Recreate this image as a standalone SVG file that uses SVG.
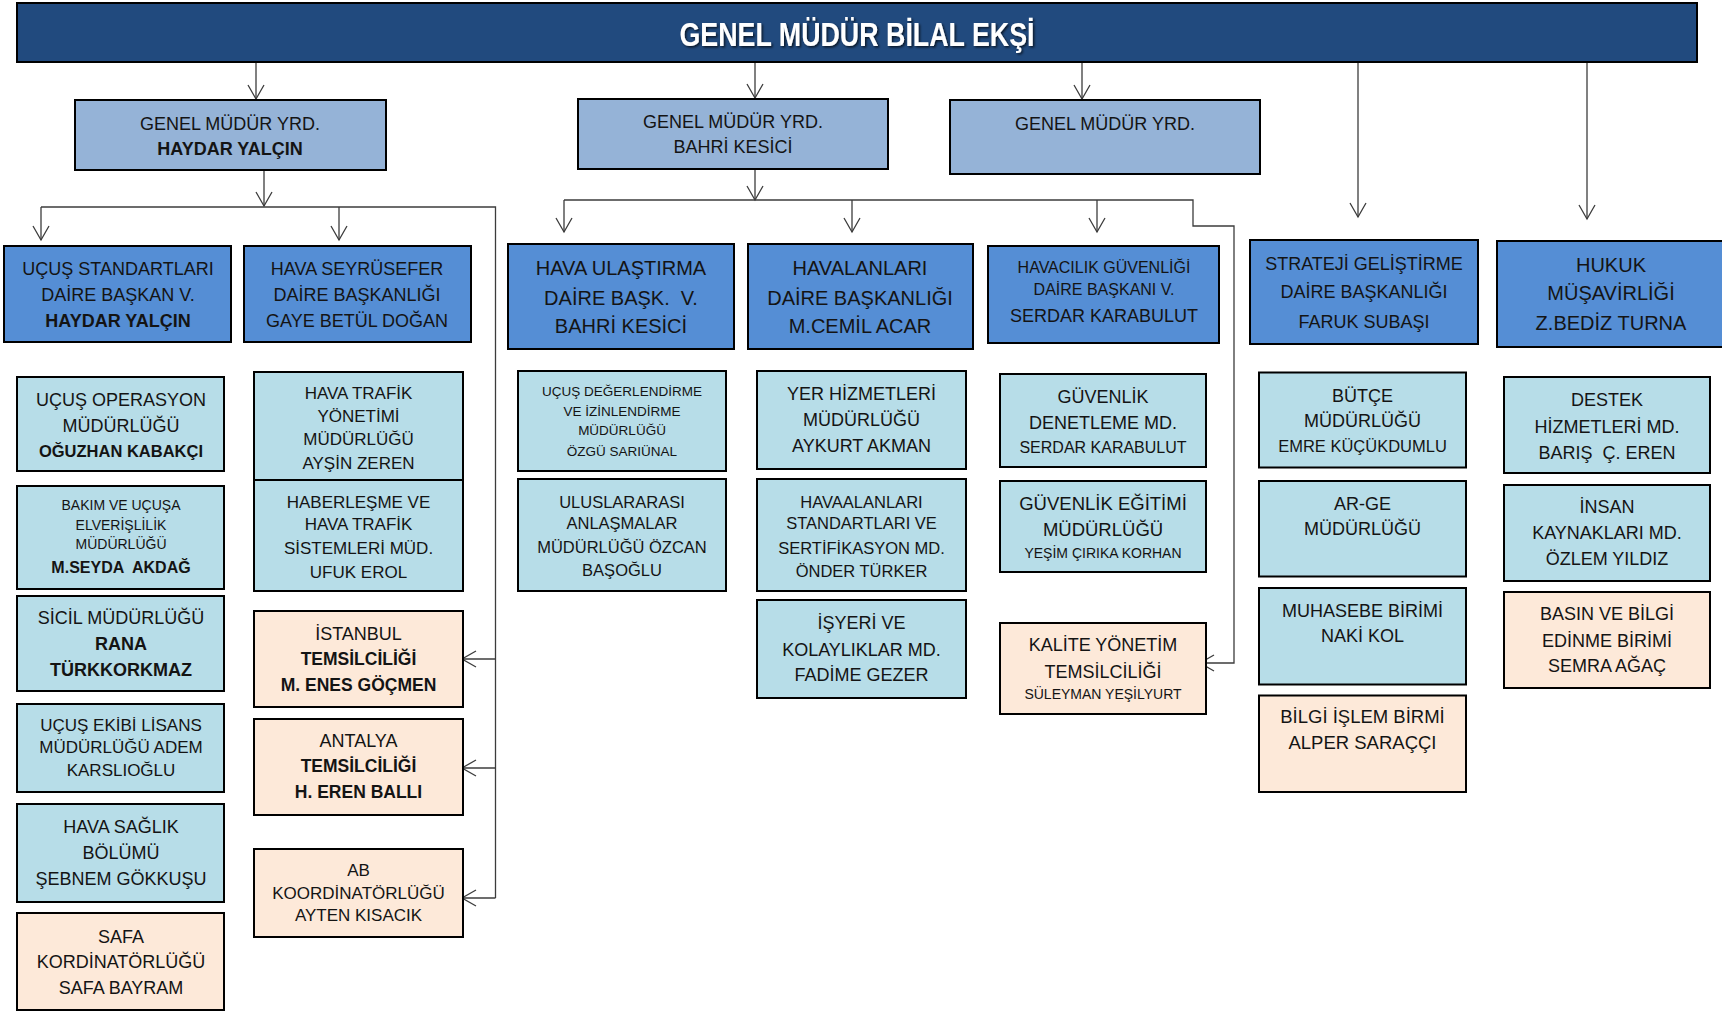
<svg xmlns="http://www.w3.org/2000/svg" width="1722" height="1011" viewBox="0 0 1722 1011">
<defs>
<style>
.box{stroke:#000;stroke-width:2}
.hd{fill:#214A7E}
.gm{fill:#95B3D7}
.dp{fill:#558ED5}
.lb{fill:#B7DDE8}
.pc{fill:#FDE9D9}
text{font-family:"Liberation Sans",Arial,sans-serif;text-anchor:middle;fill:#141414}
.b{font-weight:bold}
.ln{fill:none;stroke:#3c3c3c;stroke-width:1.3}
</style>
<marker id="ar" markerUnits="userSpaceOnUse" markerWidth="18" markerHeight="20" viewBox="0 0 18 20" refX="16" refY="10" orient="auto">
<path d="M2,2 L16,10 L2,18" fill="none" stroke="#3c3c3c" stroke-width="1.3"/>
</marker>
<filter id="sh" x="-5%" y="-30%" width="110%" height="160%">
<feDropShadow dx="1.5" dy="1.5" stdDeviation="1" flood-color="#000" flood-opacity="0.7"/>
</filter>
</defs>
<rect width="1722" height="1011" fill="#fff"/>

<g id="connectors">
<path class="ln" d="M256,62 V99" marker-end="url(#ar)"/>
<path class="ln" d="M755,62 V98" marker-end="url(#ar)"/>
<path class="ln" d="M1082,62 V99" marker-end="url(#ar)"/>
<path class="ln" d="M1358,62 V217" marker-end="url(#ar)"/>
<path class="ln" d="M1587,62 V219" marker-end="url(#ar)"/>
<path class="ln" d="M264,170 V206" marker-end="url(#ar)"/>
<path class="ln" d="M41,207 H495.5 V898"/>
<path class="ln" d="M41,207 V240" marker-end="url(#ar)"/>
<path class="ln" d="M339,207 V240" marker-end="url(#ar)"/>
<path class="ln" d="M495.5,659 H462" marker-end="url(#ar)"/>
<path class="ln" d="M495.5,768 H462" marker-end="url(#ar)"/>
<path class="ln" d="M495.5,898 H462" marker-end="url(#ar)"/>
<path class="ln" d="M755,169 V200" marker-end="url(#ar)"/>
<path class="ln" d="M564,200 H1193 V226 H1234 V663 H1200" marker-end="url(#ar)"/>
<path class="ln" d="M564,200 V232" marker-end="url(#ar)"/>
<path class="ln" d="M852,200 V232" marker-end="url(#ar)"/>
<path class="ln" d="M1097,200 V232" marker-end="url(#ar)"/>
</g>

<g id="genel-mudur">
<rect class="box hd" x="17" y="3" width="1680" height="59"/>
<text x="857" y="45.5" font-size="33" class="b" style="fill:#fff" textLength="355" lengthAdjust="spacingAndGlyphs" filter="url(#sh)">GENEL MÜDÜR BİLAL EKŞİ</text>
</g>

<g id="gmy-haydar">
<rect class="box gm" x="75" y="100" width="311" height="70"/>
<text x="230" y="129.5" font-size="18">GENEL MÜDÜR YRD.</text>
<text x="230" y="154.5" font-size="18" class="b">HAYDAR YALÇIN</text>
</g>
<g id="gmy-bahri">
<rect class="box gm" x="578" y="99" width="310" height="70"/>
<text x="733" y="127.5" font-size="18">GENEL MÜDÜR YRD.</text>
<text x="733" y="152.5" font-size="18">BAHRİ KESİCİ</text>
</g>
<g id="gmy-3">
<rect class="box gm" x="950" y="100" width="310" height="74"/>
<text x="1105" y="129.5" font-size="18">GENEL MÜDÜR YRD.</text>
</g>

<g id="ucus-standartlari">
<rect class="box dp" x="4" y="246" width="227" height="96"/>
<text x="118" y="274.5" font-size="18">UÇUŞ STANDARTLARI</text>
<text x="118" y="300.5" font-size="18">DAİRE BAŞKAN V.</text>
<text x="118" y="326.5" font-size="18" class="b">HAYDAR YALÇIN</text>
</g>
<g id="hava-seyrusefer">
<rect class="box dp" x="244" y="246" width="227" height="96"/>
<text x="357" y="274.5" font-size="18">HAVA SEYRÜSEFER</text>
<text x="357" y="300.5" font-size="18">DAİRE BAŞKANLIĞI</text>
<text x="357" y="326.5" font-size="18">GAYE BETÜL DOĞAN</text>
</g>
<g id="hava-ulastirma">
<rect class="box dp" x="508" y="244" width="226" height="105"/>
<text x="621" y="275.2" font-size="20">HAVA ULAŞTIRMA</text>
<text x="621" y="305.2" font-size="20" xml:space="preserve">DAİRE BAŞK.  V.</text>
<text x="621" y="333.2" font-size="20">BAHRİ KESİCİ</text>
</g>
<g id="havalanlari">
<rect class="box dp" x="748" y="244" width="225" height="105"/>
<text x="860" y="275.2" font-size="20">HAVALANLARI</text>
<text x="860" y="305.2" font-size="20">DAİRE BAŞKANLIĞI</text>
<text x="860" y="333.2" font-size="20">M.CEMİL ACAR</text>
</g>
<g id="havacilik-guvenligi">
<rect class="box dp" x="988" y="246" width="231" height="97"/>
<text x="1104" y="272.8" font-size="16">HAVACILIK GÜVENLİĞİ</text>
<text x="1104" y="294.8" font-size="16">DAİRE BAŞKANI V.</text>
<text x="1104" y="321.5" font-size="18">SERDAR KARABULUT</text>
</g>
<g id="strateji">
<rect class="box dp" x="1250" y="240" width="228" height="104"/>
<text x="1364" y="269.5" font-size="18">STRATEJİ GELİŞTİRME</text>
<text x="1364" y="297.5" font-size="18">DAİRE BAŞKANLIĞI</text>
<text x="1364" y="327.5" font-size="18">FARUK SUBAŞI</text>
</g>
<g id="hukuk">
<rect class="box dp" x="1497" y="241" width="228" height="106"/>
<text x="1611" y="272.2" font-size="20">HUKUK</text>
<text x="1611" y="300.2" font-size="20">MÜŞAVİRLİĞİ</text>
<text x="1611" y="330.2" font-size="20">Z.BEDİZ TURNA</text>
</g>

<g id="ucus-operasyon">
<rect class="box lb" x="17" y="377" width="207" height="94"/>
<text x="121" y="405.5" font-size="18">UÇUŞ OPERASYON</text>
<text x="121" y="431.5" font-size="18">MÜDÜRLÜĞÜ</text>
<text x="121" y="456.5" font-size="16.5" class="b">OĞUZHAN KABAKÇI</text>
</g>
<g id="bakim">
<rect class="box lb" x="17" y="486" width="207" height="103"/>
<text x="121" y="510" font-size="14">BAKIM VE UÇUŞA</text>
<text x="121" y="530" font-size="14">ELVERİŞLİLİK</text>
<text x="121" y="549" font-size="14">MÜDÜRLÜĞÜ</text>
<text x="121" y="573.3" font-size="16" class="b" xml:space="preserve">M.SEYDA  AKDAĞ</text>
</g>
<g id="sicil">
<rect class="box lb" x="17" y="596" width="207" height="95"/>
<text x="121" y="623.5" font-size="18">SİCİL MÜDÜRLÜĞÜ</text>
<text x="121" y="650" font-size="18" class="b">RANA</text>
<text x="121" y="675.5" font-size="18" class="b">TÜRKKORKMAZ</text>
</g>
<g id="ucus-ekibi">
<rect class="box lb" x="17" y="704" width="207" height="88"/>
<text x="121" y="730.6" font-size="17">UÇUŞ EKİBİ LİSANS</text>
<text x="121" y="753.1" font-size="17">MÜDÜRLÜĞÜ ADEM</text>
<text x="121" y="776.1" font-size="17">KARSLIOĞLU</text>
</g>
<g id="hava-saglik">
<rect class="box lb" x="17" y="804" width="207" height="98"/>
<text x="121" y="832.5" font-size="18">HAVA SAĞLIK</text>
<text x="121" y="858.5" font-size="18">BÖLÜMÜ</text>
<text x="121" y="884.5" font-size="18">ŞEBNEM GÖKKUŞU</text>
</g>
<g id="safa">
<rect class="box pc" x="17" y="913" width="207" height="97"/>
<text x="121" y="942.5" font-size="18">SAFA</text>
<text x="121" y="967.5" font-size="18">KORDİNATÖRLÜĞÜ</text>
<text x="121" y="993.5" font-size="18">SAFA BAYRAM</text>
</g>

<g id="hava-trafik-yonetimi">
<rect class="box lb" x="254" y="372" width="209" height="108"/>
<text x="358.5" y="399.1" font-size="17">HAVA TRAFİK</text>
<text x="358.5" y="422.1" font-size="17">YÖNETİMİ</text>
<text x="358.5" y="445.1" font-size="17">MÜDÜRLÜĞÜ</text>
<text x="358.5" y="469.1" font-size="17">AYŞİN ZEREN</text>
</g>
<g id="haberlesme">
<rect class="box lb" x="254" y="480" width="209" height="111"/>
<text x="358.5" y="508.1" font-size="17">HABERLEŞME VE</text>
<text x="358.5" y="530.1" font-size="17">HAVA TRAFİK</text>
<text x="358.5" y="554.1" font-size="17">SİSTEMLERİ MÜD.</text>
<text x="358.5" y="578.1" font-size="17">UFUK EROL</text>
</g>
<g id="istanbul">
<rect class="box pc" x="254" y="611" width="209" height="96"/>
<text x="358.5" y="639.5" font-size="18">İSTANBUL</text>
<text x="358.5" y="665.3" font-size="17.5" class="b">TEMSİLCİLİĞİ</text>
<text x="358.5" y="691.3" font-size="17.5" class="b">M. ENES GÖÇMEN</text>
</g>
<g id="antalya">
<rect class="box pc" x="254" y="719" width="209" height="96"/>
<text x="358.5" y="746.5" font-size="18">ANTALYA</text>
<text x="358.5" y="772.3" font-size="17.5" class="b">TEMSİLCİLİĞİ</text>
<text x="358.5" y="798.3" font-size="17.5" class="b">H. EREN BALLI</text>
</g>
<g id="ab">
<rect class="box pc" x="254" y="849" width="209" height="88"/>
<text x="358.5" y="876.1" font-size="17">AB</text>
<text x="358.5" y="899.1" font-size="17">KOORDİNATÖRLÜĞÜ</text>
<text x="358.5" y="921.1" font-size="17">AYTEN KISACIK</text>
</g>

<g id="ucus-degerlendirme">
<rect class="box lb" x="518" y="371" width="208" height="100"/>
<text x="622" y="395.8" font-size="13.5">UÇUŞ DEĞERLENDİRME</text>
<text x="622" y="415.8" font-size="13.5">VE İZİNLENDİRME</text>
<text x="622" y="434.8" font-size="13.5">MÜDÜRLÜĞÜ</text>
<text x="622" y="455.8" font-size="13.5">ÖZGÜ SARIÜNAL</text>
</g>
<g id="uluslararasi">
<rect class="box lb" x="518" y="479" width="208" height="112"/>
<text x="622" y="507.9" font-size="16.5">ULUSLARARASI</text>
<text x="622" y="528.9" font-size="16.5">ANLAŞMALAR</text>
<text x="622" y="552.9" font-size="16.5">MÜDÜRLÜĞÜ ÖZCAN</text>
<text x="622" y="575.9" font-size="16.5">BAŞOĞLU</text>
</g>

<g id="yer-hizmetleri">
<rect class="box lb" x="757" y="371" width="209" height="98"/>
<text x="861.5" y="399.5" font-size="18">YER HİZMETLERİ</text>
<text x="861.5" y="425.5" font-size="18">MÜDÜRLÜĞÜ</text>
<text x="861.5" y="451.5" font-size="18">AYKURT AKMAN</text>
</g>
<g id="havaalanlari-standartlari">
<rect class="box lb" x="757" y="479" width="209" height="112"/>
<text x="861.5" y="507.9" font-size="16.5">HAVAALANLARI</text>
<text x="861.5" y="528.9" font-size="16.5">STANDARTLARI VE</text>
<text x="861.5" y="553.9" font-size="16.5">SERTİFİKASYON MD.</text>
<text x="861.5" y="576.9" font-size="16.5">ÖNDER TÜRKER</text>
</g>
<g id="isyeri">
<rect class="box lb" x="757" y="600" width="209" height="98"/>
<text x="861.5" y="628.5" font-size="18">İŞYERİ VE</text>
<text x="861.5" y="655.5" font-size="18">KOLAYLIKLAR MD.</text>
<text x="861.5" y="680.5" font-size="18">FADİME GEZER</text>
</g>

<g id="guvenlik-denetleme">
<rect class="box lb" x="1000" y="374" width="206" height="93"/>
<text x="1103" y="403" font-size="18">GÜVENLİK</text>
<text x="1103" y="428.5" font-size="18">DENETLEME MD.</text>
<text x="1103" y="453.3" font-size="16">SERDAR KARABULUT</text>
</g>
<g id="guvenlik-egitimi">
<rect class="box lb" x="1000" y="481" width="206" height="91"/>
<text x="1103" y="509.7" font-size="18.5">GÜVENLİK EĞİTİMİ</text>
<text x="1103" y="535.7" font-size="18.5">MÜDÜRLÜĞÜ</text>
<text x="1103" y="557.5" font-size="14">YEŞİM ÇIRIKA KORHAN</text>
</g>
<g id="kalite">
<rect class="box pc" x="1000" y="623" width="206" height="91"/>
<text x="1103" y="651" font-size="18">KALİTE YÖNETİM</text>
<text x="1103" y="677.5" font-size="18">TEMSİLCİLİĞİ</text>
<text x="1103" y="699" font-size="14">SÜLEYMAN YEŞİLYURT</text>
</g>

<g id="butce">
<rect class="box lb" x="1259" y="372.5" width="207" height="95"/>
<text x="1362.5" y="401.5" font-size="18">BÜTÇE</text>
<text x="1362.5" y="426.5" font-size="18">MÜDÜRLÜĞÜ</text>
<text x="1362.5" y="451.9" font-size="16.5">EMRE KÜÇÜKDUMLU</text>
</g>
<g id="ar-ge">
<rect class="box lb" x="1259" y="481" width="207" height="95.5"/>
<text x="1362.5" y="509.5" font-size="18">AR-GE</text>
<text x="1362.5" y="534.5" font-size="18">MÜDÜRLÜĞÜ</text>
</g>
<g id="muhasebe">
<rect class="box lb" x="1259" y="588" width="207" height="96.5"/>
<text x="1362.5" y="616.5" font-size="18">MUHASEBE BİRİMİ</text>
<text x="1362.5" y="642" font-size="18">NAKİ KOL</text>
</g>
<g id="bilgi-islem">
<rect class="box pc" x="1259" y="695.5" width="207" height="96.5"/>
<text x="1362.5" y="723.2" font-size="18.5">BİLGİ İŞLEM BİRMİ</text>
<text x="1362.5" y="749.4" font-size="18.5">ALPER SARAÇÇI</text>
</g>

<g id="destek">
<rect class="box lb" x="1504" y="377" width="206" height="96"/>
<text x="1607" y="405.5" font-size="18">DESTEK</text>
<text x="1607" y="432.5" font-size="18">HİZMETLERİ MD.</text>
<text x="1607" y="458.5" font-size="18" xml:space="preserve">BARIŞ  Ç. EREN</text>
</g>
<g id="insan-kaynaklari">
<rect class="box lb" x="1504" y="485" width="206" height="96"/>
<text x="1607" y="512.5" font-size="18">İNSAN</text>
<text x="1607" y="539" font-size="18">KAYNAKLARI MD.</text>
<text x="1607" y="564.5" font-size="18">ÖZLEM YILDIZ</text>
</g>
<g id="basin">
<rect class="box pc" x="1504" y="592" width="206" height="96"/>
<text x="1607" y="620.1" font-size="18">BASIN VE BİLGİ</text>
<text x="1607" y="646.5" font-size="18">EDİNME BİRİMİ</text>
<text x="1607" y="671.5" font-size="18">SEMRA AĞAÇ</text>
</g>
</svg>
